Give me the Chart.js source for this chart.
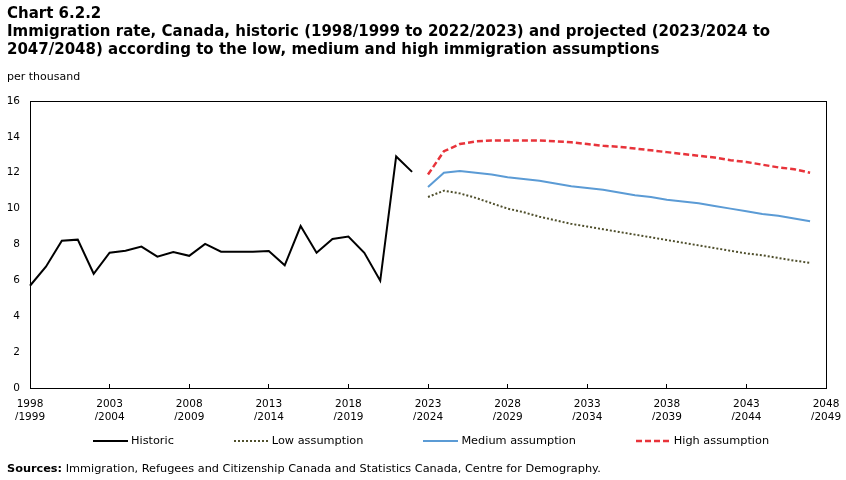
<!DOCTYPE html>
<html lang="en">
<head>
<meta charset="UTF-8">
<title>Chart 6.2.2</title>
<script src="https://cdn.jsdelivr.net/npm/chart.js"></script>
<style>
  body, html {
    margin: 0;
    width: 846px;
    height: 480px;
    background: #fff;
    font-family: "DejaVu Sans", Verdana, sans-serif;
    color: #000;
    overflow: hidden;
  }
  #wrap { position: absolute; left: 0; top: 0; width: 846px; height: 480px; }
  .title {
    position: absolute; left: 7px; top: 4px;
    font-size: 15px; font-weight: bold; line-height: 18px;
  }
  .unit { position: absolute; left: 7px; top: 70px; font-size: 11px; }
  .sources { position: absolute; left: 7px; top: 462px; font-size: 11.3px; }
  .legend {
    position: absolute; top: 434px; left: 93px;
    display: flex; font-size: 11.3px; line-height: 14px;
  }
  .legend .item { display: flex; align-items: center; margin-right: 60px; }
  .legend svg { margin-right: 3px; }
</style>
</head>
<body>
<div id="wrap"><canvas id="rateChart"></canvas></div>
<div class="title">Chart 6.2.2<br>Immigration rate, Canada, historic (1998/1999 to 2022/2023) and projected (2023/2024 to<br>2047/2048) according to the low, medium and high immigration assumptions</div>
<div class="unit">per thousand</div>
<div class="legend" id="legend"></div>
<div class="sources"><b>Sources:</b> Immigration, Refugees and Citizenship Canada and Statistics Canada, Centre for Demography.</div>

<script>
  // years 1998/1999 ... 2048/2049
  const startYears = [];
  for (let y = 1998; y <= 2048; y++) startYears.push(y);
  const categories = startYears.map(y => y + '/' + (y + 1));

  // historic 1998/1999 to 2022/2023
  const historic = [5.70, 6.76, 8.21, 8.27, 6.37, 7.54, 7.65, 7.88, 7.32, 7.58,
                    7.37, 8.03, 7.60, 7.60, 7.60, 7.64, 6.84, 9.03, 7.54, 8.31,
                    8.44, 7.54, 5.98, 12.91, 12.05];

  // projections 2023/2024 to 2047/2048
  const lowAssumption = [10.65, 11.0, 10.85, 10.6, 10.3, 10.0, 9.8, 9.55, 9.35, 9.15,
                         9.0, 8.85, 8.7, 8.55, 8.4, 8.25, 8.1, 7.95, 7.8, 7.65,
                         7.5, 7.4, 7.25, 7.1, 6.98];
  const mediumAssumption = [11.2, 12.0, 12.1, 12.0, 11.9, 11.75, 11.65, 11.55, 11.4, 11.25,
                            11.15, 11.05, 10.9, 10.75, 10.65, 10.5, 10.4, 10.3, 10.15, 10.0,
                            9.85, 9.7, 9.6, 9.45, 9.3];
  const highAssumption = [11.9, 13.2, 13.6, 13.75, 13.8, 13.8, 13.8, 13.8, 13.75, 13.7,
                          13.6, 13.5, 13.45, 13.35, 13.25, 13.15, 13.05, 12.95, 12.85, 12.7,
                          12.6, 12.45, 12.3, 12.2, 12.0];

  const yTicks = [0, 2, 4, 6, 8, 10, 12, 14, 16];

  // pad the series out to the full category axis
  const histFull = categories.map((c, i) => i < historic.length ? historic[i] : null);
  const proj = arr => categories.map((c, i) => {
    const j = i - historic.length;
    return j >= 0 && j < arr.length ? arr[j] : null;
  });

  const series = [
    { label: 'Historic', data: histFull, color: '#000000', width: 2, dash: [] },
    { label: 'Low assumption', data: proj(lowAssumption), color: '#4f4f2c', width: 2, dash: [2, 2] },
    { label: 'Medium assumption', data: proj(mediumAssumption), color: '#5b9bd5', width: 2, dash: [] },
    { label: 'High assumption', data: proj(highAssumption), color: '#e8333a', width: 2.5, dash: [6, 3] }
  ];

  // box round the plot area
  const framePlugin = {
    id: 'frame',
    afterDraw(chart) {
      const { ctx, chartArea: a } = chart;
      ctx.save();
      ctx.strokeStyle = '#000';
      ctx.lineWidth = 1;
      ctx.strokeRect(Math.round(a.left) + 0.5, Math.round(a.top) + 0.5,
                     Math.round(a.right - a.left), Math.round(a.bottom - a.top));
      ctx.restore();
    }
  };

  const tickFont = { family: '"DejaVu Sans", Verdana, sans-serif', size: 10.5 };

  new Chart(document.getElementById('rateChart'), {
    type: 'line',
    data: {
      labels: categories,
      datasets: series.map(s => ({
        label: s.label,
        data: s.data,
        borderColor: s.color,
        backgroundColor: s.color,
        borderWidth: s.width,
        borderDash: s.dash,
        pointRadius: 0,
        tension: 0,
        spanGaps: false
      }))
    },
    options: {
      responsive: true,
      maintainAspectRatio: false,
      animation: false,
      layout: { padding: { top: 101, left: 0, right: 20, bottom: 60 } },
      plugins: { legend: { display: false }, tooltip: { enabled: false } },
      scales: {
        x: {
          offset: false,
          grid: {
            drawOnChartArea: false,
            drawTicks: true,
            tickLength: -4,
            color: c => (c.index % 5 === 0 ? '#000' : 'rgba(0,0,0,0)')
          },
          border: { color: '#000' },
          ticks: {
            autoSkip: false,
            maxRotation: 0,
            padding: 14,
            color: '#000',
            font: tickFont,
            callback: function (v, i) {
              if (i % 5 !== 0) return '';
              const parts = categories[i].split('/');
              return [parts[0], '/' + parts[1]];
            }
          },
          afterFit: s => { s.height = 32; s.paddingLeft = 0; s.paddingRight = 0; }
        },
        y: {
          min: 0, max: 16,
          afterBuildTicks: s => { s.ticks = yTicks.map(v => ({ value: v })); },
          grid: { display: false, drawTicks: false },
          border: { color: '#000' },
          ticks: { padding: 10, color: '#000', font: tickFont },
          afterFit: s => { s.width = 30; s.paddingTop = 0; s.paddingBottom = 0; }
        }
      }
    },
    plugins: [framePlugin]
  });

  // legend samples use the same styles as the lines
  const legend = document.getElementById('legend');
  series.forEach(s => {
    const item = document.createElement('div');
    item.className = 'item';
    item.innerHTML =
      '<svg width="35" height="6"><line x1="0" y1="3" x2="35" y2="3" stroke="' + s.color +
      '" stroke-width="' + s.width + '" stroke-dasharray="' + (s.dash.length ? s.dash.join(',') : 'none') +
      '"/></svg><span>' + s.label + '</span>';
    legend.appendChild(item);
  });
</script>
</body>
</html>
